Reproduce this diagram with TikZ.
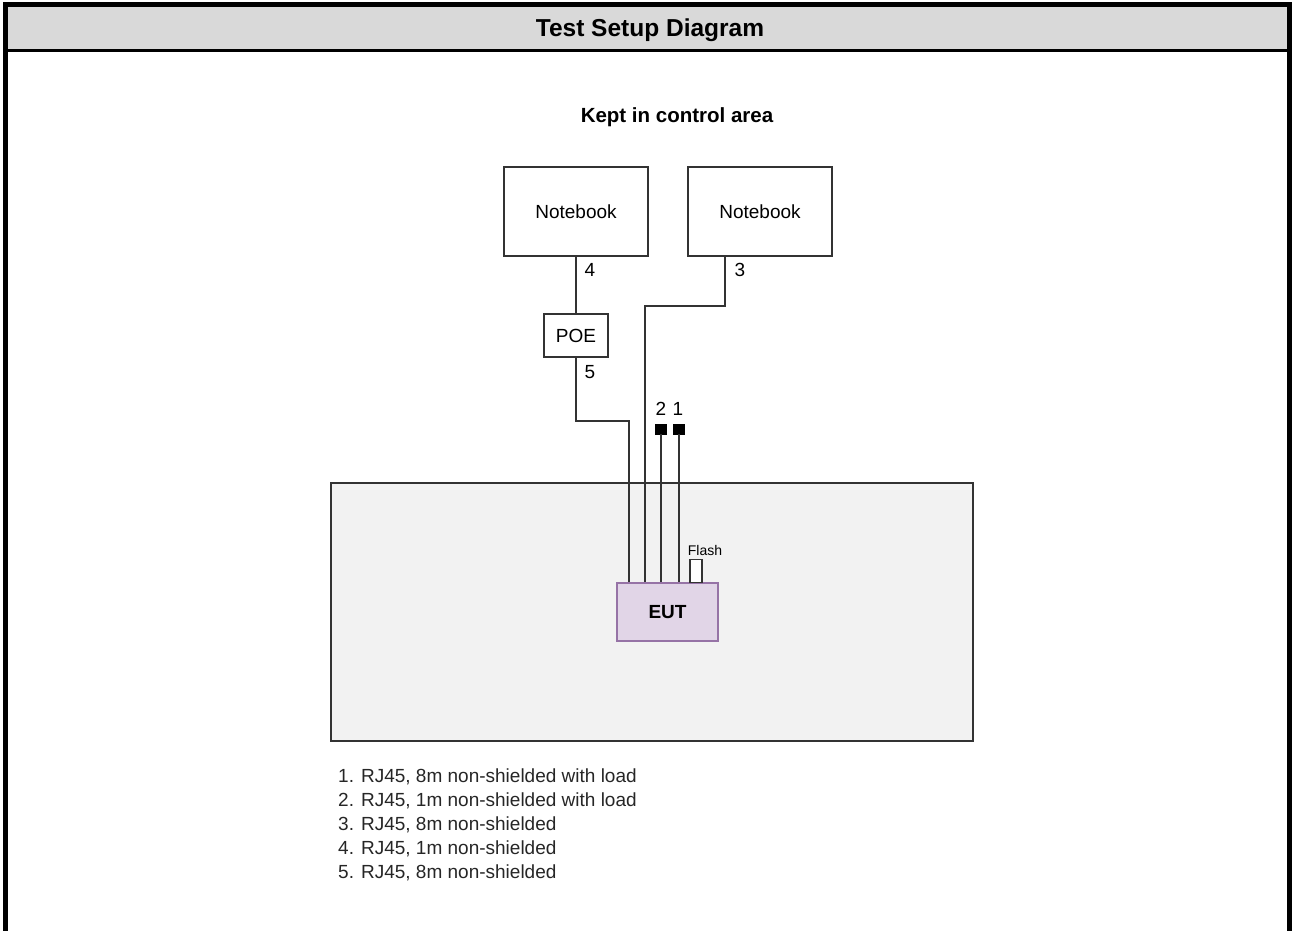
\documentclass[tikz,border=0pt]{standalone}
\usepackage{fontspec}
\setmainfont{Liberation Sans}
\begin{document}
\begin{tikzpicture}[x=1pt,y=-1pt,
  box/.style={draw=black!80,line width=1.3pt,fill=white,inner sep=0pt,font=\fontsize{19}{22}\selectfont},
  wire/.style={draw=black!80,line width=1.6pt},
  lbl/.style={inner sep=0pt,font=\fontsize{19}{22}\selectfont},
  plug/.style={fill=black,draw=black,minimum width=11pt,minimum height=10pt,inner sep=0pt}]
\useasboundingbox (0,0) rectangle (1293,930);
% frame and title
\fill[fill={rgb,255:red,217;green,217;blue,217}] (5,5) rectangle (1289,50);
\draw[line width=3pt] (5,50.5) -- (1289,50.5);
\draw[line width=5pt] (5,935) -- (5,4.5) -- (1289,4.5) -- (1289,935);
\node[inner sep=0pt,font=\fontsize{24.5}{28}\selectfont\bfseries] (title) at (650,30) {Test Setup Diagram};
\node[inner sep=0pt,font=\fontsize{20.5}{24}\selectfont\bfseries] (area) at (677,117) {Kept in control area};
% nodes
\node[box,minimum width=144pt,minimum height=89pt] (nb1) at (576,211.5) {Notebook};
\node[box,minimum width=144pt,minimum height=89pt] (nb2) at (760,211.5) {Notebook};
\node[box,minimum width=64pt,minimum height=43pt] (poe) at (576,335.5) {POE};
\node[draw=black!80,line width=1.3pt,fill={rgb,255:red,242;green,242;blue,242},minimum width=642pt,minimum height=258pt,inner sep=0pt] (room) at (652,612) {};
\node[draw={rgb,255:red,150;green,115;blue,166},line width=1.5pt,fill={rgb,255:red,225;green,213;blue,231},minimum width=101pt,minimum height=58pt,inner sep=0pt,font=\fontsize{19}{22}\selectfont\bfseries] (eut) at (667.5,612) {EUT};
\node[draw=black!80,line width=1.3pt,fill=white,minimum width=12pt,minimum height=23pt,inner sep=0pt,anchor=south] (flash) at (696,583) {};
\node[inner sep=0pt,font=\fontsize{14}{16}\selectfont] (flashlbl) at (705,550) {Flash};
\node[plug] (p2) at (661,429) {};
\node[plug] (p1) at (679,429) {};
% coordinates
\coordinate (c5) at (629,421);
\coordinate (c3a) at (725,306);
\coordinate (c3b) at (645,306);
% wires
\draw[wire] (nb1.south) -- (poe.north);
\draw[wire] (poe.south) |- (c5) -- (eut.north -| c5);
\draw[wire] (nb2.south -| c3a) -- (c3a) -- (c3b) -- (eut.north -| c3b);
\draw[wire] (p2.south) -- (eut.north -| p2);
\draw[wire] (p1.south) -- (eut.north -| p1);
% labels
\node[lbl] (l4) at (590,270) {4};
\node[lbl] (l3) at (740,270) {3};
\node[lbl] (l5) at (590,372) {5};
\node[lbl] (l2) at (661,409) {2};
\node[lbl] (l1) at (678,409) {1};
% legend
\node[inner sep=0pt,anchor=north west,align=left,text=black!85,font=\fontsize{19}{24}\selectfont] (legend) at (338,769) {1. RJ45, 8m non-shielded with load\\2. RJ45, 1m non-shielded with load\\3. RJ45, 8m non-shielded\\4. RJ45, 1m non-shielded\\5. RJ45, 8m non-shielded};
\end{tikzpicture}
\end{document}
